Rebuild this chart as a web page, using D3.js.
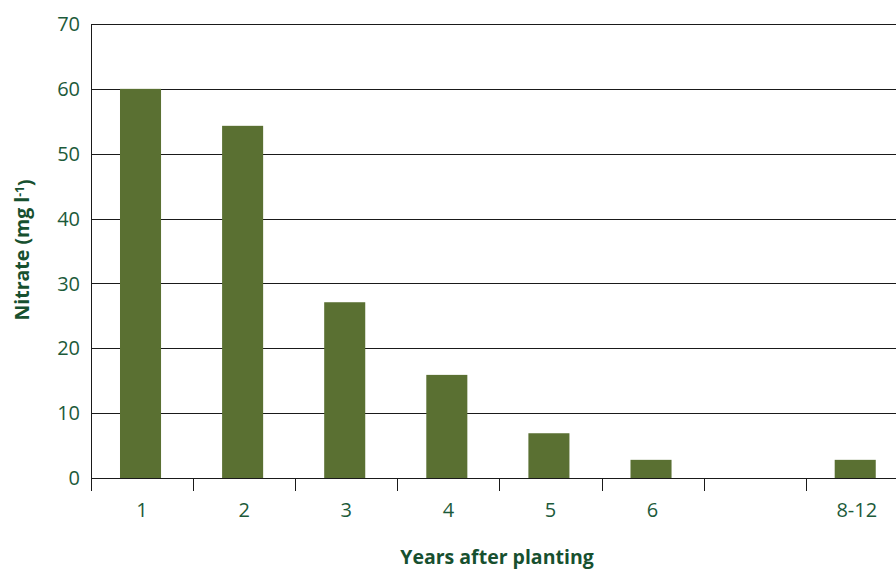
<!DOCTYPE html>
<html>
<head>
<meta charset="utf-8">
<script src="https://cdn.jsdelivr.net/npm/d3@7/dist/d3.min.js"></script>
<style>
  html, body { margin: 0; padding: 0; background: #fff; }
  svg { display: block; }
  text { font-family: "Open Sans", "Noto Sans", sans-serif; }
</style>
</head>
<body>
<svg id="chart" width="896" height="570"></svg>
<script>
// Nitrate concentration by years after planting
const categories = ["1", "2", "3", "4", "5", "6", "7", "8-12"];
const tickLabels = ["1", "2", "3", "4", "5", "6", "", "8-12"];
const nitrate = [60, 54.3, 27.1, 15.9, 6.9, 2.8, null, 2.8];
const yTicks = [0, 10, 20, 30, 40, 50, 60, 70];

const svg = d3.select("#chart");
const plotLeft = 91, plotTop = 24, plotBottom = 478;
const step = 102.1;
const plotRight = plotLeft + step * categories.length;

const textColor = "#1c5a3a";
const titleColor = "#17502f";
const barColor = "#5a7032";
const lineColor = "#1a1a1a";

const x = d3.scaleBand().domain(categories).range([plotLeft, plotRight]).padding(0);
const y = d3.scaleLinear().domain([0, 70]).range([plotBottom, plotTop]);

// horizontal gridlines
svg.append("g")
  .selectAll("line")
  .data(yTicks)
  .join("line")
  .attr("x1", plotLeft).attr("x2", 896)
  .attr("y1", d => Math.round(y(d)) + 0.5)
  .attr("y2", d => Math.round(y(d)) + 0.5)
  .attr("stroke", lineColor).attr("stroke-width", 1);

// bars
const bw = x.bandwidth();
svg.append("g")
  .selectAll("rect")
  .data(categories.map((c, i) => ({ c, v: nitrate[i] })).filter(d => d.v != null))
  .join("rect")
  .attr("x", d => x(d.c) + bw * 0.284)
  .attr("width", bw * 0.402)
  .attr("y", d => y(d.v))
  .attr("height", d => y(0) - y(d.v))
  .attr("fill", barColor);

// y axis line
svg.append("line")
  .attr("x1", plotLeft + 0.5).attr("x2", plotLeft + 0.5)
  .attr("y1", plotTop).attr("y2", plotBottom + 13)
  .attr("stroke", lineColor).attr("stroke-width", 1);

// y tick labels
svg.append("g")
  .selectAll("text")
  .data(yTicks)
  .join("text")
  .attr("x", 80)
  .attr("y", d => y(d))
  .attr("dy", "0.36em")
  .attr("text-anchor", "end")
  .attr("font-size", 20)
  .attr("fill", textColor)
  .text(d => d);

// x axis ticks (category boundaries)
svg.append("g")
  .selectAll("line")
  .data(categories.slice(1))
  .join("line")
  .attr("x1", d => Math.round(x(d)) + 0.5)
  .attr("x2", d => Math.round(x(d)) + 0.5)
  .attr("y1", plotBottom).attr("y2", plotBottom + 13)
  .attr("stroke", lineColor).attr("stroke-width", 1);

// x tick labels
svg.append("g")
  .selectAll("text")
  .data(categories.map((c, i) => ({ c, label: tickLabels[i] })))
  .join("text")
  .attr("x", d => x(d.c) + bw * 0.5)
  .attr("y", 517)
  .attr("text-anchor", "middle")
  .attr("font-size", 20)
  .attr("fill", textColor)
  .text(d => d.label);

// x axis title
svg.append("text")
  .attr("x", 497)
  .attr("y", 564)
  .attr("text-anchor", "middle")
  .attr("font-size", 19.5)
  .attr("font-weight", "bold")
  .attr("fill", titleColor)
  .text("Years after planting");

// y axis title with superscript
const yt = svg.append("text")
  .attr("transform", "translate(29,250) rotate(-90)")
  .attr("text-anchor", "middle")
  .attr("font-size", 19.5)
  .attr("font-weight", "bold")
  .attr("fill", titleColor);
yt.append("tspan").text("Nitrate (mg l");
yt.append("tspan").attr("dy", "-0.45em").attr("font-size", 12).text("-1");
yt.append("tspan").attr("dy", "0.45em").text(")");
</script>
</body>
</html>
